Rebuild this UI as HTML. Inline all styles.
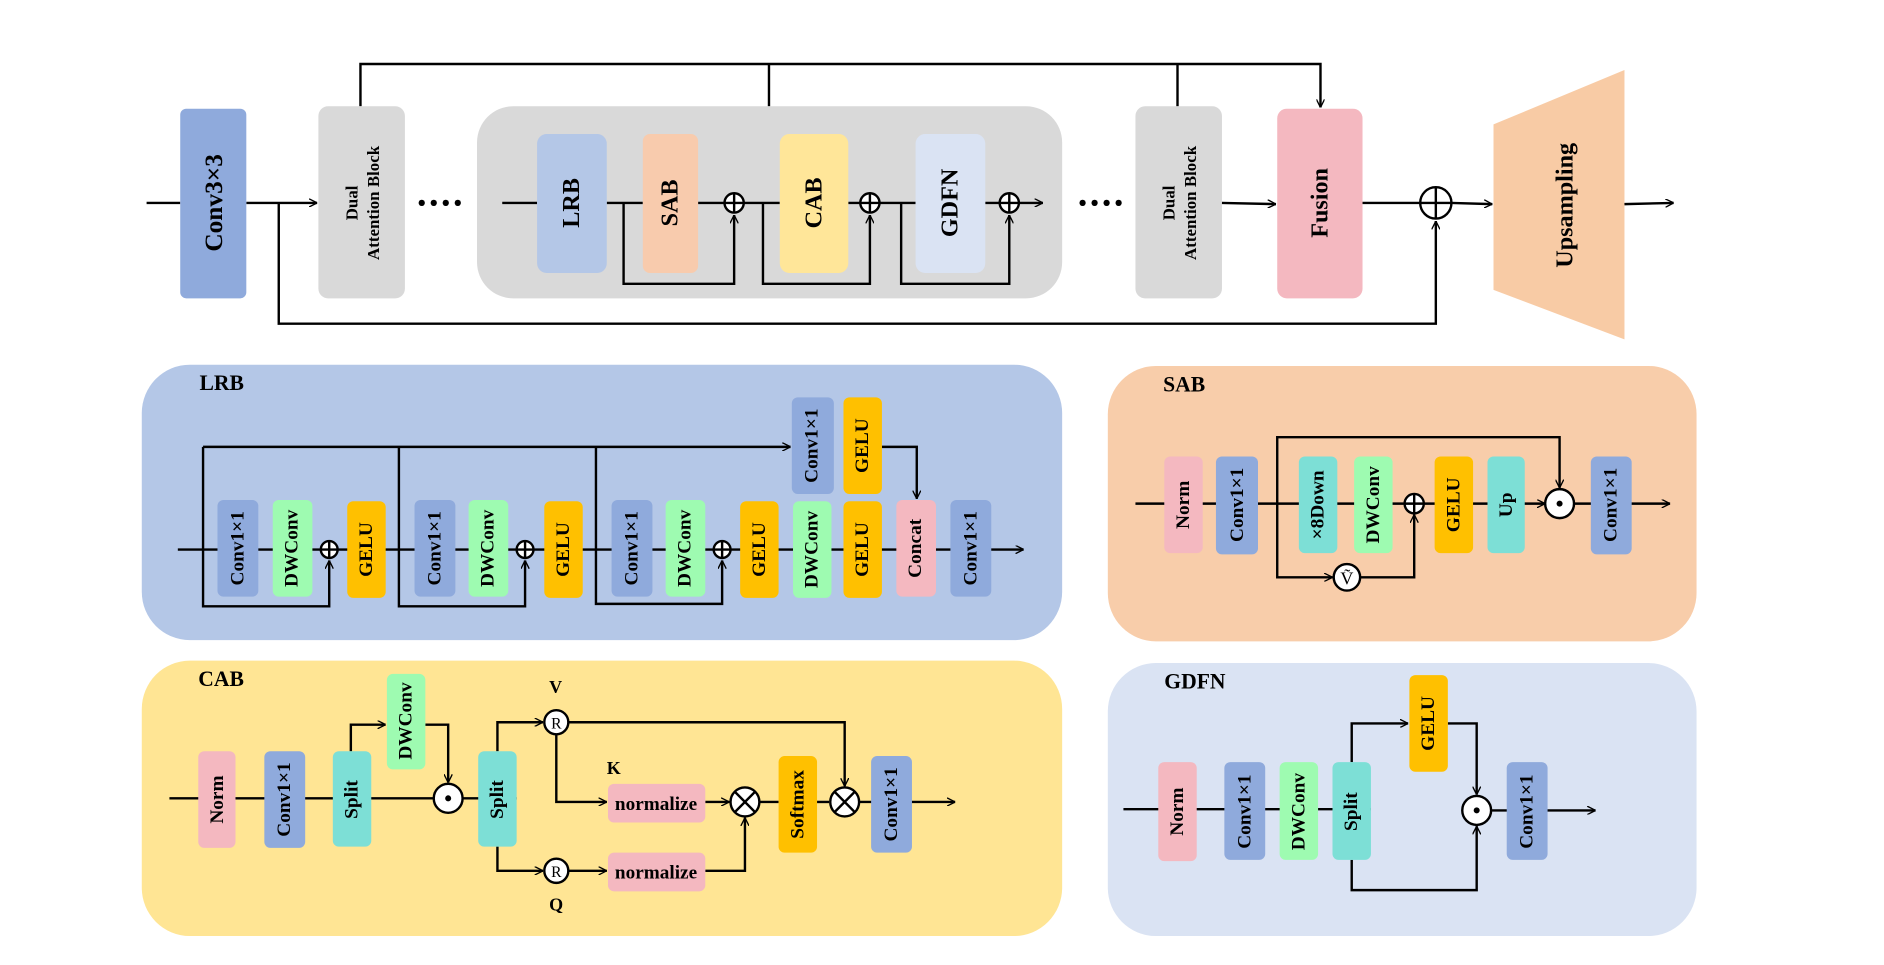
<!DOCTYPE html>
<html><head><meta charset="utf-8"><style>html,body{margin:0;padding:0;background:#fff}svg{display:block}</style></head>
<body>
<svg width="1884" height="965" viewBox="0 0 1568 799" preserveAspectRatio="none" xmlns="http://www.w3.org/2000/svg" font-family="'Liberation Serif', serif" font-weight="bold">
<defs>
<marker id="a" viewBox="0 0 10 10" refX="10" refY="5" markerWidth="7" markerHeight="7" orient="auto" markerUnits="userSpaceOnUse"><path d="M0,0 L10,5 L0,10" fill="none" stroke="#000" stroke-width="1.6"/></marker>
</defs>
<g fill="none" stroke="#000" stroke-width="2">
<line x1="122" y1="168" x2="150" y2="168"/>
<line x1="205" y1="168" x2="264" y2="168" marker-end="url(#a)"/>
<polyline points="232,168 232,268 1195,268 1195,183" marker-end="url(#a)"/>
<polyline points="300,88 300,53 1099,53 1099,89" marker-end="url(#a)"/>
<line x1="640" y1="53" x2="640" y2="88"/>
<line x1="980" y1="53" x2="980" y2="88"/>
</g>
<rect x="150" y="90" width="55" height="157" rx="5" fill="#8faadc"/>
<rect x="265" y="88" width="72" height="159" rx="8" fill="#d9d9d9"/>
<rect x="397" y="88" width="487" height="159" rx="30" fill="#d9d9d9"/>
<rect x="945" y="88" width="72" height="159" rx="8" fill="#d9d9d9"/>
<rect x="1063" y="90" width="71" height="157" rx="8" fill="#f4b8c0"/>
<polygon points="1243,103 1352,58 1352,281 1243,240" fill="#f8cba5"/>
<g fill="none" stroke="#000" stroke-width="2">
<line x1="418" y1="168" x2="447" y2="168"/>
<line x1="505" y1="168" x2="535" y2="168"/>
<line x1="581" y1="168" x2="649" y2="168"/>
<line x1="706" y1="168" x2="762" y2="168"/>
<line x1="820" y1="168" x2="868" y2="168" marker-end="url(#a)"/>
<polyline points="519,168 519,235 611,235 611,178" marker-end="url(#a)"/>
<polyline points="635,168 635,235 724,235 724,178" marker-end="url(#a)"/>
<polyline points="750,168 750,235 840,235 840,178" marker-end="url(#a)"/>
<line x1="1017" y1="168" x2="1062" y2="169" marker-end="url(#a)"/>
<line x1="1134" y1="168" x2="1182" y2="168"/>
<line x1="1208" y1="168" x2="1242" y2="169" marker-end="url(#a)"/>
<line x1="1352" y1="169" x2="1393" y2="168" marker-end="url(#a)"/>
</g>
<rect x="447" y="111" width="58" height="115" rx="8" fill="#b4c7e7"/>
<rect x="535" y="111" width="46" height="115" rx="6" fill="#f8cbad"/>
<rect x="649" y="111" width="57" height="115" rx="8" fill="#ffe699"/>
<rect x="762" y="111" width="58" height="115" rx="8" fill="#dae3f3"/>
<g fill="#fff" stroke="#000" stroke-width="2">
<circle cx="611" cy="168" r="8"/><circle cx="724" cy="168" r="8"/><circle cx="840" cy="168" r="8"/>
<circle cx="1195" cy="168" r="13"/>
</g>
<g stroke="#000" stroke-width="2">
<path d="M603,168H619M611,160V176M716,168H732M724,160V176M832,168H848M840,160V176M1182,168H1208M1195,155V181"/>
</g>
<g fill="#000">
<circle cx="351" cy="168" r="2.6"/><circle cx="361" cy="168" r="2.6"/><circle cx="371" cy="168" r="2.6"/><circle cx="381" cy="168" r="2.6"/>
<circle cx="901" cy="168" r="2.6"/><circle cx="911" cy="168" r="2.6"/><circle cx="921" cy="168" r="2.6"/><circle cx="931" cy="168" r="2.6"/>
</g>
<g text-anchor="middle" dominant-baseline="central" fill="#000">
<text transform="translate(178,168) rotate(-90)" font-size="21">Conv3×3</text>
<text transform="translate(293,168) rotate(-90)" font-size="14">Dual</text>
<text transform="translate(311,168) rotate(-90)" font-size="14">Attention Block</text>
<text transform="translate(973,168) rotate(-90)" font-size="14">Dual</text>
<text transform="translate(991,168) rotate(-90)" font-size="14">Attention Block</text>
<text transform="translate(476,168) rotate(-90)" font-size="20">LRB</text>
<text transform="translate(558,168) rotate(-90)" font-size="20">SAB</text>
<text transform="translate(678,168) rotate(-90)" font-size="20">CAB</text>
<text transform="translate(791,168) rotate(-90)" font-size="20">GDFN</text>
<text transform="translate(1099,168) rotate(-90)" font-size="20">Fusion</text>
<text transform="translate(1303,170) rotate(-90)" font-size="20">Upsampling</text>
</g>

<rect x="118" y="302" width="766" height="228" rx="40" fill="#b4c7e7"/>
<rect x="922" y="303" width="490" height="228" rx="40" fill="#f8cdaa"/>
<rect x="118" y="547" width="766" height="228" rx="40" fill="#ffe594"/>
<rect x="922" y="549" width="490" height="226" rx="40" fill="#dae3f3"/>
<g font-size="18" fill="#000">
<text x="166" y="323">LRB</text><text x="968" y="324">SAB</text>
<text x="165" y="568">CAB</text><text x="969" y="570">GDFN</text>
<text x="457" y="574" font-size="15">V</text><text x="505" y="641" font-size="15">K</text><text x="457" y="754" font-size="15">Q</text>
</g>

<g fill="none" stroke="#000" stroke-width="2">
<line x1="148" y1="455" x2="852" y2="455" marker-end="url(#a)"/>
<line x1="169" y1="370" x2="658" y2="370" marker-end="url(#a)"/>
<polyline points="734,370 763,370 763,413" marker-end="url(#a)"/>
<polyline points="169,370 169,502 274,502 274,464" marker-end="url(#a)"/>
<polyline points="332,370 332,502 437,502 437,464" marker-end="url(#a)"/>
<polyline points="496,370 496,500 601,500 601,464" marker-end="url(#a)"/>
</g>
<g>
<rect x="181" y="414" width="34" height="80" rx="5" fill="#8faadc"/>
<rect x="227" y="414" width="33" height="80" rx="5" fill="#9efbb1"/>
<rect x="289" y="415" width="32" height="80" rx="5" fill="#ffc000"/>
<rect x="345" y="414" width="34" height="80" rx="5" fill="#8faadc"/>
<rect x="390" y="414" width="33" height="80" rx="5" fill="#9efbb1"/>
<rect x="453" y="415" width="32" height="80" rx="5" fill="#ffc000"/>
<rect x="509" y="414" width="34" height="80" rx="5" fill="#8faadc"/>
<rect x="554" y="414" width="33" height="80" rx="5" fill="#9efbb1"/>
<rect x="616" y="415" width="32" height="80" rx="5" fill="#ffc000"/>
<rect x="660" y="415" width="32" height="80" rx="5" fill="#9efbb1"/>
<rect x="702" y="415" width="32" height="80" rx="5" fill="#ffc000"/>
<rect x="746" y="414" width="33" height="80" rx="5" fill="#f4b8c0"/>
<rect x="791" y="414" width="34" height="80" rx="5" fill="#8faadc"/>
<rect x="659" y="329" width="35" height="80" rx="5" fill="#8faadc"/>
<rect x="702" y="329" width="32" height="80" rx="5" fill="#ffc000"/>
</g>
<g fill="#fff" stroke="#000" stroke-width="2">
<circle cx="274" cy="455" r="7"/><circle cx="437" cy="455" r="7"/><circle cx="601" cy="455" r="7"/>
</g>
<path d="M267,455H281M274,448V462M430,455H444M437,448V462M594,455H608M601,448V462" stroke="#000" stroke-width="2"/>
<g text-anchor="middle" dominant-baseline="central" fill="#000" font-size="16">
<text transform="translate(198,454) rotate(-90)">Conv1×1</text>
<text transform="translate(243,454) rotate(-90)">DWConv</text>
<text transform="translate(305,455) rotate(-90)">GELU</text>
<text transform="translate(362,454) rotate(-90)">Conv1×1</text>
<text transform="translate(406,454) rotate(-90)">DWConv</text>
<text transform="translate(469,455) rotate(-90)">GELU</text>
<text transform="translate(526,454) rotate(-90)">Conv1×1</text>
<text transform="translate(570,454) rotate(-90)">DWConv</text>
<text transform="translate(632,455) rotate(-90)">GELU</text>
<text transform="translate(676,455) rotate(-90)">DWConv</text>
<text transform="translate(718,455) rotate(-90)">GELU</text>
<text transform="translate(762,454) rotate(-90)">Concat</text>
<text transform="translate(808,454) rotate(-90)">Conv1×1</text>
<text transform="translate(676,369) rotate(-90)">Conv1×1</text>
<text transform="translate(718,369) rotate(-90)">GELU</text>
</g>

<g fill="none" stroke="#000" stroke-width="2">
<line x1="945" y1="417" x2="1286" y2="417" marker-end="url(#a)"/>
<line x1="1310" y1="417" x2="1390" y2="417" marker-end="url(#a)"/>
<polyline points="1063,417 1063,362 1298,362 1298,404" marker-end="url(#a)"/>
<polyline points="1063,417 1063,478 1109,478" marker-end="url(#a)"/>
<polyline points="1132,478 1177,478 1177,426" marker-end="url(#a)"/>
</g>
<rect x="969" y="378" width="32" height="80" rx="5" fill="#f4b8c0"/>
<rect x="1012" y="378" width="35" height="81" rx="5" fill="#8faadc"/>
<rect x="1081" y="378" width="32" height="80" rx="5" fill="#7ddfd6"/>
<rect x="1127" y="378" width="32" height="80" rx="5" fill="#9efbb1"/>
<rect x="1194" y="378" width="32" height="80" rx="5" fill="#ffc000"/>
<rect x="1238" y="378" width="31" height="80" rx="5" fill="#7ddfd6"/>
<rect x="1324" y="378" width="34" height="81" rx="5" fill="#8faadc"/>
<g fill="#fff" stroke="#000" stroke-width="2">
<circle cx="1177" cy="417" r="8"/><circle cx="1298" cy="417" r="12"/><circle cx="1121" cy="478" r="11"/>
</g>
<path d="M1169,417H1185M1177,409V425" stroke="#000" stroke-width="2"/>
<circle cx="1298" cy="417" r="2.5" fill="#000"/>
<text x="1121" y="484" text-anchor="middle" font-size="15" font-weight="normal" fill="#000">Ṽ</text>
<g text-anchor="middle" dominant-baseline="central" fill="#000" font-size="16">
<text transform="translate(985,418) rotate(-90)">Norm</text>
<text transform="translate(1030,418) rotate(-90)">Conv1×1</text>
<text transform="translate(1097,418) rotate(-90)">×8Down</text>
<text transform="translate(1143,418) rotate(-90)">DWConv</text>
<text transform="translate(1210,418) rotate(-90)">GELU</text>
<text transform="translate(1254,418) rotate(-90)">Up</text>
<text transform="translate(1341,418) rotate(-90)">Conv1×1</text>
</g>

<g fill="none" stroke="#000" stroke-width="2">
<line x1="141" y1="661" x2="361" y2="661"/>
<line x1="385" y1="661" x2="430" y2="661"/>
<polyline points="292,622 292,600 321,600" marker-end="url(#a)"/>
<polyline points="354,600 373,600 373,648" marker-end="url(#a)"/>
<polyline points="414,622 414,598 452,598" marker-end="url(#a)"/>
<polyline points="414,701 414,721 452,721" marker-end="url(#a)"/>
<polyline points="473,598 703,598 703,651" marker-end="url(#a)"/>
<polyline points="463,608 463,664 505,664" marker-end="url(#a)"/>
<line x1="473" y1="721" x2="505" y2="721" marker-end="url(#a)"/>
<line x1="587" y1="664" x2="607" y2="664" marker-end="url(#a)"/>
<polyline points="587,721 620,721 620,677" marker-end="url(#a)"/>
<line x1="632" y1="664" x2="648" y2="664"/>
<line x1="680" y1="664" x2="690" y2="664"/>
<line x1="715" y1="664" x2="795" y2="664" marker-end="url(#a)"/>
</g>
<rect x="165" y="622" width="31" height="80" rx="5" fill="#f4b8c0"/>
<rect x="220" y="622" width="34" height="80" rx="5" fill="#8faadc"/>
<rect x="277" y="622" width="32" height="79" rx="5" fill="#7ddfd6"/>
<rect x="322" y="558" width="32" height="79" rx="5" fill="#9efbb1"/>
<rect x="398" y="622" width="32" height="79" rx="5" fill="#7ddfd6"/>
<rect x="506" y="649" width="81" height="32" rx="5" fill="#f4b8c0"/>
<rect x="506" y="706" width="81" height="32" rx="5" fill="#f4b8c0"/>
<rect x="648" y="626" width="32" height="80" rx="5" fill="#ffc000"/>
<rect x="725" y="626" width="34" height="80" rx="5" fill="#8faadc"/>
<g fill="#fff" stroke="#000" stroke-width="2">
<circle cx="373" cy="661" r="12"/><circle cx="463" cy="598" r="10"/><circle cx="463" cy="721" r="10"/>
<circle cx="620" cy="664" r="12"/><circle cx="703" cy="664" r="12"/>
</g>
<circle cx="373" cy="661" r="2.5" fill="#000"/>
<path d="M612,656L628,672M628,656L612,672M695,656L711,672M711,656L695,672" stroke="#000" stroke-width="2"/>
<g text-anchor="middle" font-size="13" font-weight="normal" fill="#000">
<text x="463" y="603">R</text><text x="463" y="726">R</text>
</g>
<g text-anchor="middle" dominant-baseline="central" fill="#000" font-size="16">
<text transform="translate(181,662) rotate(-90)">Norm</text>
<text transform="translate(237,662) rotate(-90)">Conv1×1</text>
<text transform="translate(293,662) rotate(-90)">Split</text>
<text transform="translate(338,597) rotate(-90)">DWConv</text>
<text transform="translate(414,662) rotate(-90)">Split</text>
<text transform="translate(664,666) rotate(-90)">Softmax</text>
<text transform="translate(742,666) rotate(-90)">Conv1×1</text>
<text x="546" y="666">normalize</text>
<text x="546" y="723">normalize</text>
</g>

<g fill="none" stroke="#000" stroke-width="2">
<line x1="935" y1="670" x2="1141" y2="670"/>
<line x1="1241" y1="671" x2="1328" y2="671" marker-end="url(#a)"/>
<polyline points="1125,631 1125,599 1172,599" marker-end="url(#a)"/>
<polyline points="1205,599 1229,599 1229,658" marker-end="url(#a)"/>
<polyline points="1125,712 1125,737 1229,737 1229,684" marker-end="url(#a)"/>
</g>
<rect x="964" y="631" width="32" height="82" rx="5" fill="#f4b8c0"/>
<rect x="1019" y="631" width="34" height="81" rx="5" fill="#8faadc"/>
<rect x="1065" y="631" width="32" height="81" rx="5" fill="#9efbb1"/>
<rect x="1109" y="631" width="32" height="81" rx="5" fill="#7ddfd6"/>
<rect x="1173" y="559" width="32" height="80" rx="5" fill="#ffc000"/>
<rect x="1254" y="631" width="34" height="81" rx="5" fill="#8faadc"/>
<circle cx="1229" cy="671" r="12" fill="#fff" stroke="#000" stroke-width="2"/>
<circle cx="1229" cy="671" r="2.5" fill="#000"/>
<g text-anchor="middle" dominant-baseline="central" fill="#000" font-size="16">
<text transform="translate(980,672) rotate(-90)">Norm</text>
<text transform="translate(1036,672) rotate(-90)">Conv1×1</text>
<text transform="translate(1081,672) rotate(-90)">DWConv</text>
<text transform="translate(1125,672) rotate(-90)">Split</text>
<text transform="translate(1189,599) rotate(-90)">GELU</text>
<text transform="translate(1271,672) rotate(-90)">Conv1×1</text>
</g>
</svg>
</body></html>
